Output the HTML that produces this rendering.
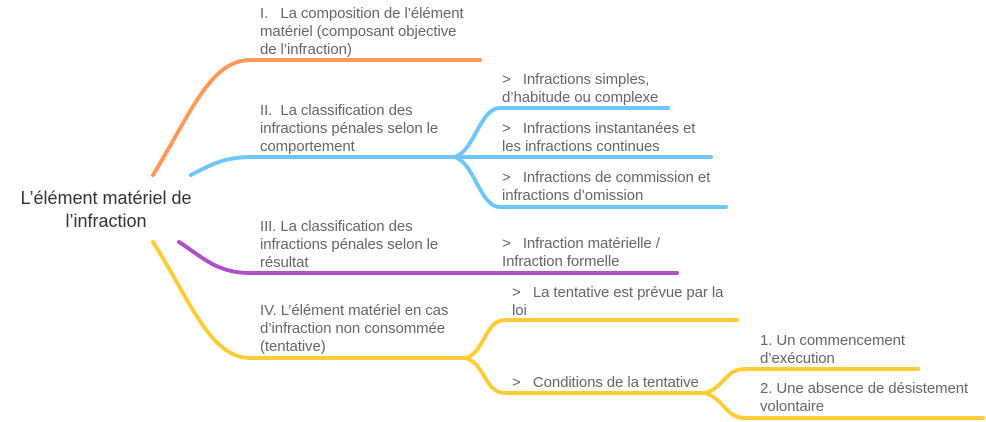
<!DOCTYPE html>
<html><head><meta charset="utf-8"><style>
body{margin:0;background:#fff;width:986px;height:422px;overflow:hidden;position:relative;font-family:"Liberation Sans",sans-serif}
.t{position:absolute;font-size:15px;line-height:18px;color:#666;white-space:nowrap;letter-spacing:-0.1px}
.c{position:absolute;left:6px;top:187px;width:200px;text-align:center;font-size:18px;line-height:23px;color:#333}
svg{position:absolute;left:0;top:0}
</style></head><body>
<svg width="986" height="422" fill="none" stroke-width="4" stroke-linecap="round">
<path d="M153,175 C190,115 210,60 250,60 L480,60" stroke="#FF9859"/>
<path d="M191,175 C210,165 225,157 250,157 L455,157" stroke="#6EC6FF"/>
<path d="M455,157 C475,150 480,108 500,108 L668,108" stroke="#6EC6FF"/>
<path d="M455,157 L711,157" stroke="#6EC6FF"/>
<path d="M455,157 C475,164 480,207 500,207 L726,207" stroke="#6EC6FF"/>
<path d="M179,242 C200,255 215,273 250,273 L677,273" stroke="#AD4FC9"/>
<path d="M153,242 C190,300 210,358 250,358 L466,358" stroke="#FFCB36"/>
<path d="M466,358 C485,352 485,320 505,320 L737,320" stroke="#FFCB36"/>
<path d="M466,358 C485,364 485,393 505,393 L705,393" stroke="#FFCB36"/>
<path d="M705,393 C725,387 725,369 745,369 L918,369" stroke="#FFCB36"/>
<path d="M705,393 C725,399 725,418 745,418 L983,418" stroke="#FFCB36"/>
</svg>
<div class="c">L’élément matériel de<br>l’infraction</div>
<div class="t" style="left:260px;top:5px">I.&nbsp;&nbsp; La composition de l’élément<br>matériel (composant objective<br>de l’infraction)</div>
<div class="t" style="left:260px;top:102px">II.&nbsp; La classification des<br>infractions pénales selon le<br>comportement</div>
<div class="t" style="left:260px;top:218px">III. La classification des<br>infractions pénales selon le<br>résultat</div>
<div class="t" style="left:260px;top:302px">IV. L’élément matériel en cas<br>d’infraction non consommée<br>(tentative)</div>
<div class="t" style="left:502px;top:71px">&gt;&nbsp;&nbsp; Infractions simples,<br>d’habitude ou complexe</div>
<div class="t" style="left:502px;top:120px">&gt;&nbsp;&nbsp; Infractions instantanées et<br>les infractions continues</div>
<div class="t" style="left:502px;top:169px">&gt;&nbsp;&nbsp; Infractions de commission et<br>infractions d’omission</div>
<div class="t" style="left:502px;top:235px">&gt;&nbsp;&nbsp; Infraction matérielle /<br>Infraction formelle</div>
<div class="t" style="left:512px;top:284px">&gt;&nbsp;&nbsp; La tentative est prévue par la<br>loi</div>
<div class="t" style="left:512px;top:374px">&gt;&nbsp;&nbsp; Conditions de la tentative</div>
<div class="t" style="left:760px;top:332px">1. Un commencement<br>d’exécution</div>
<div class="t" style="left:760px;top:380px">2. Une absence de désistement<br>volontaire</div>
</body></html>
